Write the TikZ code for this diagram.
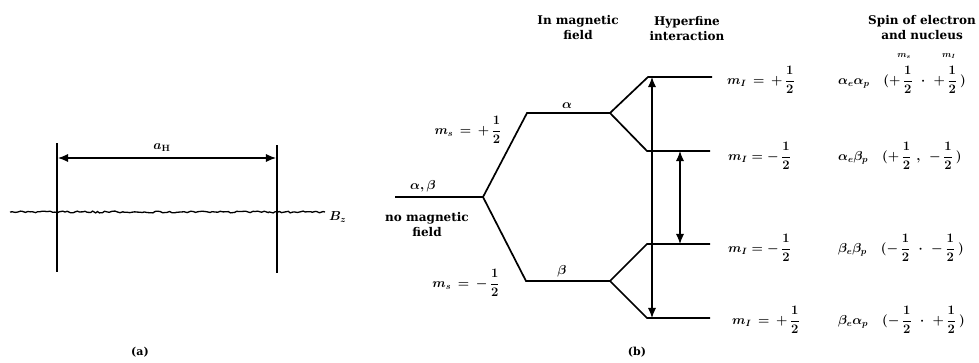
\RequirePackage{fix-cm}
\documentclass[tikz,border=0pt]{standalone}
\usepackage{amsmath}
\usepackage[no-math]{fontspec}
\setmainfont{DejaVu Serif}
\usepackage{tikz}
\usetikzlibrary{arrows.meta,positioning,decorations.pathmorphing}

\begin{document}
\begin{tikzpicture}[
    x=1pt, y=-1pt,
    level/.style={line width=1.7pt, line join=miter},
    dblarrow/.style={{Latex[length=3.6mm,width=2.9mm]}-{Latex[length=3.6mm,width=2.9mm]}, line width=1.1pt},
    heading/.style={align=center, font=\fontsize{12}{15}\selectfont\bfseries, inner sep=0pt},
    lbl/.style={font=\fontsize{13}{15}\selectfont\bfseries\boldmath, inner sep=0pt},
    small/.style={font=\fontsize{9}{10}\selectfont\bfseries\boldmath, inner sep=0pt}
  ]
  \useasboundingbox (0,0) rectangle (979,362);
  \pgfmathsetseed{7}

  \coordinate (baseL) at (10,212);
  \coordinate (baseR) at (325,212);
  \draw[line width=1.3pt, decorate, decoration={random steps, segment length=2.5pt, amplitude=0.9pt}] (baseL) -- (baseR);
  \node[lbl, anchor=west] (bz) at (329,217) {$B_z$};
  \coordinate (lineLt) at (57,143);
  \coordinate (lineLb) at (57,272);
  \coordinate (lineRt) at (277,145);
  \coordinate (lineRb) at (277,273);
  \draw[line width=2.2pt] (lineLt) -- (lineLb);
  \draw[line width=2.2pt] (lineRt) -- (lineRb);
  \coordinate (aL) at (58,158);
  \coordinate (aR) at (276,158);
  \draw[dblarrow] (aL) -- (aR);
  \node[lbl] (aH) at (162,148) {$a_{\mathbf{H}}$};
  \node[font=\fontsize{11}{13}\selectfont\bfseries] (capA) at (140,352) {(a)};

  \coordinate (ab0) at (395,197);
  \coordinate (split) at (483,197);
  \coordinate (aS) at (527,113);
  \coordinate (aE) at (610,113);
  \coordinate (bS) at (526,281);
  \coordinate (bE) at (610,281);
  \coordinate (h1s) at (648,77);
  \coordinate (h1e) at (712,77);
  \coordinate (h2s) at (647,151);
  \coordinate (h2e) at (710,151);
  \coordinate (h3s) at (647,244);
  \coordinate (h3e) at (710,244);
  \coordinate (h4s) at (647,318);
  \coordinate (h4e) at (710,318);
  \draw[level] (ab0) -- (split) -- (aS) -- (aE) -- (h1s) -- (h1e);
  \draw[level] (aE) -- (h2s) -- (h2e);
  \draw[level] (split) -- (bS) -- (bE) -- (h3s) -- (h3e);
  \draw[level] (bE) -- (h4s) -- (h4e);

  \coordinate (t1) at (652,77);
  \coordinate (t4) at (652,318);
  \coordinate (t2) at (680,151);
  \coordinate (t3) at (680,244);
  \draw[dblarrow] (t1) -- (t4);
  \draw[dblarrow] (t2) -- (t3);

  \node[heading] (hmag) at (578,28) {In magnetic\\field};
  \node[heading] (hhyp) at (687,29) {Hyperfine\\interaction};
  \node[heading] (hspin) at (922,28) {Spin of electron\\and nucleus};
  \node[small] (cms) at (904,56) {$m_s$};
  \node[small] (cmi) at (949,56) {$m_I$};

  \node[lbl] (albe) at (423,186) {$\alpha,\beta$};
  \node[heading] (nofield) at (427,225) {no magnetic\\field};
  \node[lbl] (msp) at (468,130) {$m_s\,=\,+\,\dfrac{1}{2}$};
  \node[lbl] (msm) at (466,283) {$m_s\,=\,-\,\dfrac{1}{2}$};
  \node[lbl] (la) at (567,106) {$\alpha$};
  \node[lbl] (lb) at (562,271) {$\beta$};

  \node[lbl, anchor=west] (mi1) at (727,80) {$m_I\,=\,+\,\dfrac{1}{2}$};
  \node[lbl, anchor=west] (mi2) at (728,156) {$m_I = -\,\dfrac{1}{2}$};
  \node[lbl, anchor=west] (mi3) at (728,248) {$m_I = -\,\dfrac{1}{2}$};
  \node[lbl, anchor=west] (mi4) at (732,320) {$m_I\,=\,+\,\dfrac{1}{2}$};

  \node[lbl, anchor=west] (sp1) at (838,80) {$\alpha_e\alpha_p\hspace{14pt}(+\,\dfrac{1}{2}\hspace{5pt}\cdot\hspace{5pt}+\,\dfrac{1}{2}\hspace{3pt})$};
  \node[lbl, anchor=west] (sp2) at (838,156) {$\alpha_e\beta_p\hspace{14pt}(+\,\dfrac{1}{2}\hspace{5pt},\hspace{6pt}-\,\dfrac{1}{2}\hspace{3pt})$};
  \node[lbl, anchor=west] (sp3) at (838,248) {$\beta_e\beta_p\hspace{14pt}(-\,\dfrac{1}{2}\hspace{5pt}\cdot\hspace{5pt}-\,\dfrac{1}{2}\hspace{3pt})$};
  \node[lbl, anchor=west] (sp4) at (838,320) {$\beta_e\alpha_p\hspace{14pt}(-\,\dfrac{1}{2}\hspace{5pt}\cdot\hspace{5pt}+\,\dfrac{1}{2}\hspace{3pt})$};

  \node[font=\fontsize{11}{13}\selectfont\bfseries] (capB) at (637,352) {(b)};
\end{tikzpicture}
\end{document}
